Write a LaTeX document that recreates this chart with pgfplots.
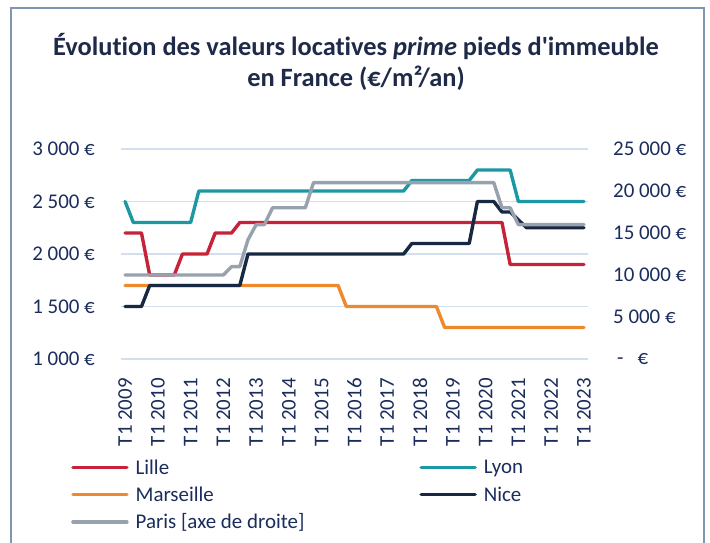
\documentclass[border=0pt]{standalone}
\usepackage{fontspec}
\setmainfont{Carlito}[Ligatures={TeXOff,NoCommon}]
\usepackage{pgfplots}
\usepackage{pgfplotstable}
\pgfplotsset{compat=1.18}
\definecolor{cLille}{RGB}{200,34,56}
\definecolor{cLyon}{RGB}{27,152,164}
\definecolor{cMars}{RGB}{237,138,46}
\definecolor{cNice}{RGB}{23,41,66}
\definecolor{cParis}{RGB}{152,161,174}
\definecolor{cText}{RGB}{27,45,92}
\definecolor{cTitle}{RGB}{30,42,72}
\definecolor{cGrid}{RGB}{211,222,239}
\definecolor{cFrame}{RGB}{127,151,176}

\pgfplotstableread{
q lille lyon mars nice paris
0 2200 2500 1700 1500 10000
1 2200 2300 1700 1500 10000
2 2200 2300 1700 1500 10000
3 1800 2300 1700 1700 10000
4 1800 2300 1700 1700 10000
5 1800 2300 1700 1700 10000
6 1800 2300 1700 1700 10000
7 2000 2300 1700 1700 10000
8 2000 2300 1700 1700 10000
9 2000 2600 1700 1700 10000
10 2000 2600 1700 1700 10000
11 2200 2600 1700 1700 10000
12 2200 2600 1700 1700 10000
13 2200 2600 1700 1700 11000
14 2300 2600 1700 1700 11000
15 2300 2600 1700 2000 14200
16 2300 2600 1700 2000 16000
17 2300 2600 1700 2000 16000
18 2300 2600 1700 2000 18000
19 2300 2600 1700 2000 18000
20 2300 2600 1700 2000 18000
21 2300 2600 1700 2000 18000
22 2300 2600 1700 2000 18000
23 2300 2600 1700 2000 21000
24 2300 2600 1700 2000 21000
25 2300 2600 1700 2000 21000
26 2300 2600 1700 2000 21000
27 2300 2600 1500 2000 21000
28 2300 2600 1500 2000 21000
29 2300 2600 1500 2000 21000
30 2300 2600 1500 2000 21000
31 2300 2600 1500 2000 21000
32 2300 2600 1500 2000 21000
33 2300 2600 1500 2000 21000
34 2300 2600 1500 2000 21000
35 2300 2700 1500 2100 21000
36 2300 2700 1500 2100 21000
37 2300 2700 1500 2100 21000
38 2300 2700 1500 2100 21000
39 2300 2700 1300 2100 21000
40 2300 2700 1300 2100 21000
41 2300 2700 1300 2100 21000
42 2300 2700 1300 2100 21000
43 2300 2800 1300 2500 21000
44 2300 2800 1300 2500 21000
45 2300 2800 1300 2500 21000
46 2300 2800 1300 2400 18000
47 1900 2800 1300 2400 18000
48 1900 2500 1300 2325 16000
49 1900 2500 1300 2250 16000
50 1900 2500 1300 2250 16000
51 1900 2500 1300 2250 16000
52 1900 2500 1300 2250 16000
53 1900 2500 1300 2250 16000
54 1900 2500 1300 2250 16000
55 1900 2500 1300 2250 16000
56 1900 2500 1300 2250 16000
}\data

\pgfplotsset{
  myline/.style={line width=3.4bp, line join=round, line cap=round},
  every axis/.append style={
    at={(121bp,184bp)}, anchor=south west,
    width=467bp, height=210bp, scale only axis,
    xmin=-0.5, xmax=56.5,
    major tick length=0pt, tick style={draw=none},
    axis line style={draw=none},
    scaled y ticks=false,
    ticklabel style={font=\fontsize{21}{25}\selectfont, text=cText},
  },
}

\begin{document}
\begin{tikzpicture}
\useasboundingbox (0,0) rectangle (710bp,543bp);
\fill[white] (0,0) rectangle (710bp,543bp);
\draw[cFrame, line width=1.6bp] (11bp,-10bp) -- (11bp,535bp) -- (704bp,535bp) -- (704bp,-10bp);
\node[font=\fontsize{26.5}{31}\selectfont\bfseries, text=cTitle, anchor=base, inner sep=0pt] at (356bp,487bp) {Évolution des valeurs locatives \textit{prime} pieds d'immeuble};
\node[font=\fontsize{26.5}{31}\selectfont\bfseries, text=cTitle, anchor=base, inner sep=0pt] at (356bp,456bp) {en France (€/m²/an)};

\begin{axis}[
  ymin=1000, ymax=3000,
  axis x line*=bottom, axis y line*=left,
  xtick={0,4,...,56},
  xticklabels={T1 2009,T1 2010,T1 2011,T1 2012,T1 2013,T1 2014,T1 2015,T1 2016,T1 2017,T1 2018,T1 2019,T1 2020,T1 2021,T1 2022,T1 2023},
  ytick={1000,1500,2000,2500,3000},
  yticklabels={1 000 €,1 500 €,2 000 €,2 500 €,3 000 €},
  ymajorgrids, grid style={cGrid, line width=1.3bp},
  yticklabel style={inner sep=0pt, anchor=east, xshift=-26bp},
  xticklabel style={rotate=90, anchor=east, inner sep=0pt},
  xticklabel shift=19bp,
  legend columns=2,
  legend cell align=left,
  legend image code/.code={\draw[#1] (0bp,0bp) -- (54bp,0bp);},
  legend style={draw=none, fill=none, at={(-0.107,-0.469)}, anchor=north west,
    font=\fontsize{21}{25}\selectfont, text=cText, inner sep=0pt,
    /tikz/every odd column/.append style={column sep=5bp},
    /tikz/every even column/.append style={column sep=113bp}, row sep=7bp},
]
\addplot[cLille, myline] table[x=q,y=lille]{\data};
\addlegendentry{Lille}
\addplot[cLyon, myline] table[x=q,y=lyon]{\data};
\addlegendentry{Lyon}
\addplot[cMars, myline] table[x=q,y=mars]{\data};
\addlegendentry{Marseille}
\addplot[cNice, myline] table[x=q,y=nice]{\data};
\addlegendentry{Nice}
\addlegendimage{cParis, myline}
\addlegendentry{Paris [axe de droite]}
\end{axis}

\begin{axis}[
  ymin=0, ymax=25000,
  axis y line*=right, axis x line=none,
  ytick={0,5000,10000,15000,20000,25000},
  yticklabels={\hspace{4bp}-\hspace{14bp}€,5 000 €,10 000 €,15 000 €,20 000 €,25 000 €},
  yticklabel style={inner sep=0pt, anchor=west, xshift=25bp},
]
\addplot[cParis, myline] table[x=q,y=paris]{\data};
\end{axis}
\end{tikzpicture}
\end{document}
